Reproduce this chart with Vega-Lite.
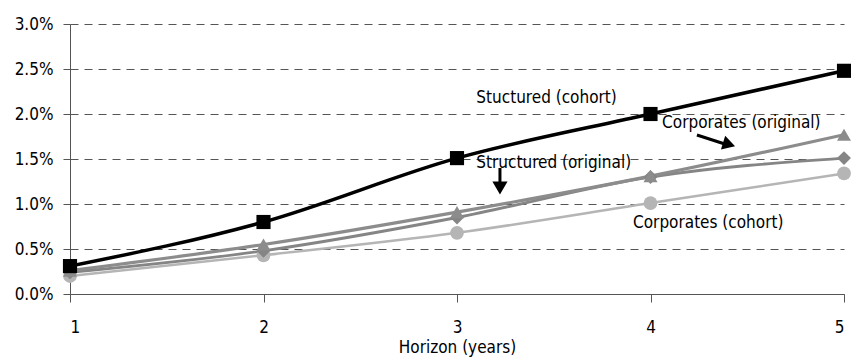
{
  "$schema": "https://vega.github.io/schema/vega-lite/v6.json",
  "width": 774,
  "height": 270,
  "autosize": {"type": "none"},
  "padding": {"left": 70, "top": 24, "right": 7, "bottom": 65},
  "background": "white",
  "config": {
    "view": {"stroke": null},
    "font": "DejaVu Sans Condensed, Liberation Sans, sans-serif",
    "axis": {"labelFont": "DejaVu Sans Condensed, Liberation Sans, sans-serif", "titleFont": "DejaVu Sans Condensed, Liberation Sans, sans-serif", "labelColor": "#000", "titleColor": "#000", "labelFontSize": 17, "titleFontSize": 17, "titleFontWeight": "normal", "domainColor": "#555", "tickColor": "#555"}
  },
  "datasets": {
    "series": [
      {"series": "Corporates (cohort)", "h": 1, "v": 0.0020},
      {"series": "Corporates (cohort)", "h": 2, "v": 0.0043},
      {"series": "Corporates (cohort)", "h": 3, "v": 0.0068},
      {"series": "Corporates (cohort)", "h": 4, "v": 0.0101},
      {"series": "Corporates (cohort)", "h": 5, "v": 0.0134},
      {"series": "Structured (original)", "h": 1, "v": 0.0024},
      {"series": "Structured (original)", "h": 2, "v": 0.0048},
      {"series": "Structured (original)", "h": 3, "v": 0.0085},
      {"series": "Structured (original)", "h": 4, "v": 0.0130},
      {"series": "Structured (original)", "h": 5, "v": 0.0151},
      {"series": "Corporates (original)", "h": 1, "v": 0.0026},
      {"series": "Corporates (original)", "h": 2, "v": 0.0055},
      {"series": "Corporates (original)", "h": 3, "v": 0.0091},
      {"series": "Corporates (original)", "h": 4, "v": 0.0131},
      {"series": "Corporates (original)", "h": 5, "v": 0.0177},
      {"series": "Stuctured (cohort)", "h": 1, "v": 0.0031},
      {"series": "Stuctured (cohort)", "h": 2, "v": 0.0080},
      {"series": "Stuctured (cohort)", "h": 3, "v": 0.0151},
      {"series": "Stuctured (cohort)", "h": 4, "v": 0.0200},
      {"series": "Stuctured (cohort)", "h": 5, "v": 0.0248}
    ],
    "labels": [
      {"label": "Stuctured (cohort)", "x": 3.10, "y": 0.0218},
      {"label": "Corporates (original)", "x": 4.06, "y": 0.0190},
      {"label": "Structured (original)", "x": 3.10, "y": 0.01456},
      {"label": "Corporates  (cohort)", "x": 3.91, "y": 0.00789}
    ],
    "arrows": [
      {"arrow": "a", "x": 4.24, "y": 0.01767, "x2": 4.40, "y2": 0.01655},
      {"arrow": "b", "x": 3.222, "y": 0.0140, "x2": 3.222, "y2": 0.0120}
    ],
    "heads": [
      {"arrow": "a", "x": 4.406, "y": 0.01661},
      {"arrow": "b", "x": 3.222, "y": 0.01178}
    ]
  },
  "layer": [
    {
      "data": {"name": "series"},
      "mark": {"type": "line", "interpolate": "monotone"},
      "encoding": {
        "x": {"field": "h", "type": "quantitative", "scale": {"domain": [1, 5], "nice": false},
          "axis": {"values": [1, 2, 3, 4, 5], "format": "d", "title": "Horizon (years)", "grid": false, "tickSize": 8, "labelPadding": 17, "titlePadding": 4}},
        "y": {"field": "v", "type": "quantitative", "scale": {"domain": [0, 0.03], "nice": false},
          "axis": {"values": [0, 0.005, 0.01, 0.015, 0.02, 0.025, 0.03], "format": ".1%", "title": null, "grid": true, "gridDash": [8, 6], "gridColor": "#555", "tickSize": 7, "labelPadding": 10}},
        "color": {"field": "series", "type": "nominal", "legend": null,
          "scale": {"domain": ["Corporates (cohort)", "Structured (original)", "Corporates (original)", "Stuctured (cohort)"], "range": ["#b5b5b5", "#858585", "#8c8c8c", "#000000"]}},
        "strokeWidth": {"field": "series", "type": "nominal", "legend": null,
          "scale": {"domain": ["Corporates (cohort)", "Structured (original)", "Corporates (original)", "Stuctured (cohort)"], "range": [2.5, 3.5, 3.5, 3.5]}},
        "order": {"field": "h"}
      }
    },
    {
      "data": {"name": "series"},
      "mark": {"type": "point", "filled": true, "opacity": 1},
      "encoding": {
        "x": {"field": "h", "type": "quantitative"},
        "y": {"field": "v", "type": "quantitative"},
        "color": {"field": "series", "type": "nominal", "legend": null,
          "scale": {"domain": ["Corporates (cohort)", "Structured (original)", "Corporates (original)", "Stuctured (cohort)"], "range": ["#b5b5b5", "#858585", "#8c8c8c", "#000000"]}},
        "shape": {"field": "series", "type": "nominal", "legend": null,
          "scale": {"domain": ["Corporates (cohort)", "Structured (original)", "Corporates (original)", "Stuctured (cohort)"], "range": ["circle", "diamond", "triangle-up", "square"]}},
        "size": {"field": "series", "type": "nominal", "legend": null,
          "scale": {"domain": ["Corporates (cohort)", "Structured (original)", "Corporates (original)", "Stuctured (cohort)"], "range": [190, 200, 170, 230]}}
      }
    },
    {
      "data": {"name": "labels"},
      "mark": {"type": "text", "align": "left", "baseline": "middle", "fontSize": 17, "color": "#000"},
      "encoding": {
        "x": {"field": "x", "type": "quantitative"},
        "y": {"field": "y", "type": "quantitative"},
        "text": {"field": "label"}
      }
    },
    {
      "data": {"name": "arrows"},
      "mark": {"type": "rule", "color": "#000", "strokeWidth": 3},
      "encoding": {
        "x": {"field": "x", "type": "quantitative"},
        "y": {"field": "y", "type": "quantitative"},
        "x2": {"field": "x2"},
        "y2": {"field": "y2"}
      }
    },
    {
      "data": {"name": "heads"},
      "transform": [{"filter": "datum.arrow === 'a'"}],
      "mark": {"type": "point", "shape": "triangle-right", "filled": true, "color": "#000", "opacity": 1, "size": 210, "angle": 17},
      "encoding": {
        "x": {"field": "x", "type": "quantitative"},
        "y": {"field": "y", "type": "quantitative"}
      }
    },
    {
      "data": {"name": "heads"},
      "transform": [{"filter": "datum.arrow === 'b'"}],
      "mark": {"type": "point", "shape": "triangle-down", "filled": true, "color": "#000", "opacity": 1, "size": 230},
      "encoding": {
        "x": {"field": "x", "type": "quantitative"},
        "y": {"field": "y", "type": "quantitative"}
      }
    }
  ]
}
